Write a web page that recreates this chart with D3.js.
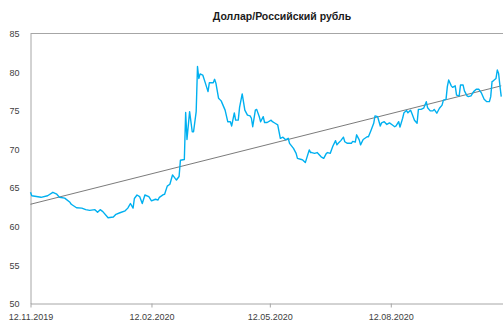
<!DOCTYPE html>
<head>
  <meta charset="utf-8">
  <title>usd_rub.html</title>
</head>
<style>
body { margin: 0; background: #fff; }
text { font-family: "Liberation Sans", "DejaVu Sans", sans-serif; }
.title { font-size: 10.5px; font-weight: bold; fill: #1a1a1a; }
.axis text { font-size: 9px; fill: #404040; }
.axis path, .axis line { stroke: #a6a6a6; }
</style>
<body>
<svg width="503" height="323"></svg>
<script src="https://cdnjs.cloudflare.com/ajax/libs/d3/7.8.5/d3.min.js"></script>
<script>
// days since 12.11.2019 and the USD/RUB close
var dayOffsets = [0, 1, 8, 13, 17, 20, 22, 26, 30, 31, 35, 39, 42, 45, 49, 51, 53, 55, 59, 63,
  65, 68, 72, 74, 76, 78, 79, 81, 83, 85, 87, 90, 92, 95, 97, 98, 101, 102, 104, 106,
  108, 110, 111, 113, 114, 117, 118, 119, 121, 123, 124, 126, 127, 128, 129, 131, 133, 135, 136, 139,
  140, 141, 143, 145, 148, 150, 152, 153, 155, 156, 158, 159, 161, 163, 165, 167, 168, 169, 171, 172,
  174, 175, 177, 178, 180, 183, 184, 186, 188, 189, 190, 192, 194, 196, 197, 200, 202, 203, 206, 207,
  209, 210, 212, 213, 214, 216, 218, 221, 223, 225, 226, 228, 229, 230, 232, 233, 234, 236, 238, 239,
  241, 244, 245, 247, 248, 250, 251, 253, 256, 257, 259, 261, 262, 264, 266, 267, 269, 271, 273, 275,
  277, 278, 280, 281, 283, 284, 286, 287, 289, 290, 292, 294, 295, 297, 299, 301, 302, 304, 306, 307,
  309, 311, 313, 314, 316, 317, 318, 320, 321, 323, 324, 326, 327, 329, 330, 332, 333, 335, 337, 339,
  341, 343, 345, 347, 349, 350, 351, 352, 354, 355, 356, 357, 358];
var rates = [64.35, 63.9, 63.7, 63.9, 64.35, 64.1, 63.7, 63.6, 63.05, 62.8, 62.35, 62.3, 62.1, 62.0, 62.1, 61.75, 62.1, 61.85, 61.05, 61.15,
  61.5, 61.7, 61.95, 62.3, 62.9, 62.3, 63.55, 64.0, 63.8, 62.9, 64.0, 63.8, 63.25, 63.45, 63.35, 63.7, 64.05, 64.1, 65.15, 65.4,
  66.6, 66.15, 65.95, 66.4, 68.5, 68.6, 74.7, 71.2, 74.8, 72.2, 72.2, 74.8, 80.65, 79.1, 79.7, 79.55, 78.5, 77.4, 78.55, 78.55,
  79.0, 78.5, 76.55, 76.2, 75.0, 73.5, 73.5, 72.95, 74.65, 73.7, 73.7, 75.35, 77.1, 75.0, 74.35, 74.25, 73.95, 72.85, 75.0, 75.1,
  74.15, 73.5, 74.15, 73.4, 73.4, 73.7, 73.5, 73.3, 73.1, 72.2, 71.35, 71.5, 71.15, 71.35, 70.7, 70.05, 69.4, 68.75, 68.6, 68.55,
  68.2, 68.75, 69.85, 69.5, 69.5, 69.4, 69.5, 68.95, 68.75, 69.4, 69.5, 69.4, 69.9, 70.35, 71.05, 70.5, 70.7, 71.05, 71.5, 70.9,
  70.7, 70.7, 70.95, 70.85, 71.8, 71.15, 70.5, 71.2, 71.55, 71.55, 72.4, 73.3, 74.25, 74.15, 72.95, 73.35, 73.5, 73.15, 73.35, 73.1,
  72.85, 72.95, 73.5, 72.8, 73.95, 74.65, 74.95, 74.65, 75.0, 74.6, 73.7, 73.3, 75.1, 75.1, 75.25, 76.1, 75.3, 74.9, 74.9, 75.1,
  74.6, 75.25, 75.65, 76.3, 76.4, 78.05, 78.9, 78.15, 77.95, 78.15, 76.95, 76.85, 78.25, 78.25, 77.5, 76.85, 76.75, 76.85, 77.4, 77.7,
  77.7, 77.2, 76.4, 76.1, 76.1, 76.75, 78.7, 78.8, 79.1, 80.2, 79.75, 78.15, 76.75];

// linear trendline end points
var trendDays = [0, 358];
var trendValues = [62.8, 78.15];

var xTicks = ["2019-11-12", "2020-02-12", "2020-05-12", "2020-08-12"];
var yTicks = [50, 55, 60, 65, 70, 75, 80, 85];

var svg = d3.select("svg"),
    margin = { top: 33, bottom: 20, right: 0, left: 30.5 },
    width = +svg.attr("width"),
    height = +svg.attr("height");

var startDate = new Date(2019, 10, 12);
var toDate = function(d) { return d3.timeDay.offset(startDate, d); };
var parse = d3.timeParse("%Y-%m-%d");

var x = d3.scaleTime()
    .domain([startDate, new Date(2020, 10, 5, 8)])
    .range([margin.left, width - margin.right]);

var y = d3.scaleLinear()
    .domain([50, 85])
    .range([height - margin.bottom, margin.top]);

svg.append("text")
    .attr("class", "title")
    .attr("x", 282)
    .attr("y", 20)
    .attr("text-anchor", "middle")
    .text("Доллар/Российский рубль");

// top frame line
svg.append("line")
    .attr("x1", margin.left).attr("x2", width)
    .attr("y1", y(85) + 0.5).attr("y2", y(85) + 0.5)
    .attr("stroke", "#a6a6a6");

var yAxis = svg.append("g")
    .attr("class", "axis")
    .attr("transform", "translate(" + (margin.left) + ",0.5)")
    .call(d3.axisLeft(y).tickValues(yTicks).tickSize(0).tickPadding(11));
yAxis.selectAll("text").attr("dy", "0.35em");

var xAxis = svg.append("g")
    .attr("class", "axis")
    .attr("transform", "translate(0," + (y(50) + 0.5) + ")")
    .call(d3.axisBottom(x)
        .tickValues(xTicks.map(parse))
        .tickFormat(d3.timeFormat("%d.%m.%Y"))
        .tickSize(4).tickSizeOuter(0).tickPadding(6));

var line = d3.line()
    .x(function(d) { return x(toDate(d[0])); })
    .y(function(d) { return y(d[1]); });

svg.append("path")
    .datum(d3.zip(trendDays, trendValues))
    .attr("fill", "none")
    .attr("stroke", "#595959")
    .attr("stroke-width", 0.8)
    .attr("d", line);

svg.append("path")
    .datum(d3.zip(dayOffsets, rates))
    .attr("fill", "none")
    .attr("stroke", "#00b0f0")
    .attr("stroke-width", 1.4)
    .attr("stroke-linejoin", "round")
    .attr("d", line);
</script>
</body>
